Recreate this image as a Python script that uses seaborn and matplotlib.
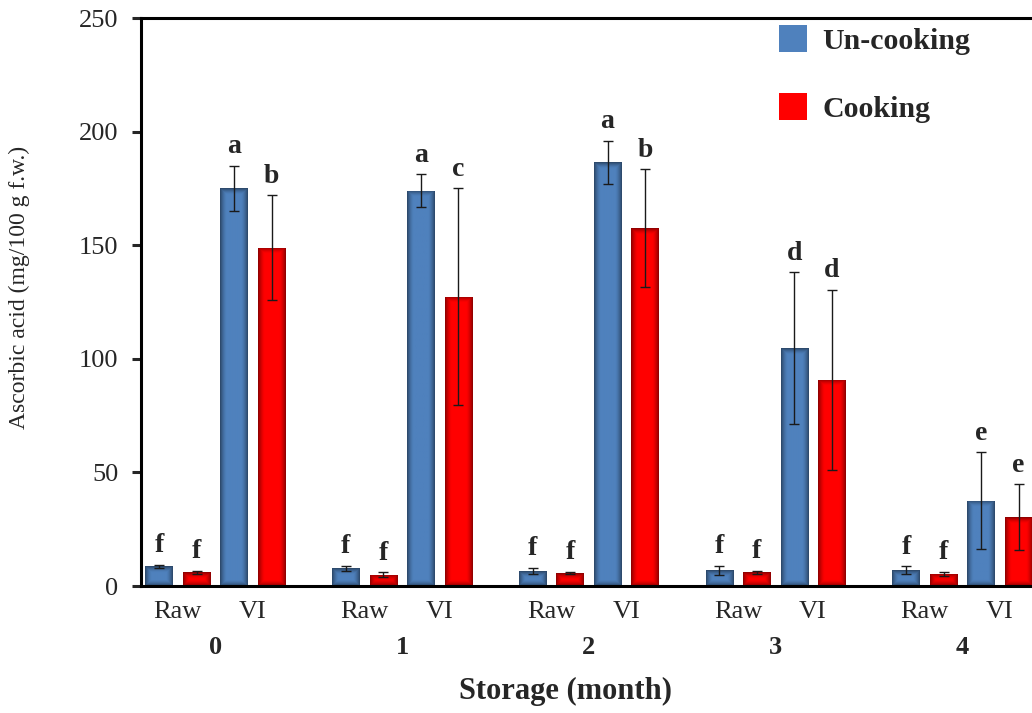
import numpy as np
import pandas as pd
import matplotlib
matplotlib.use('Agg')
import matplotlib.pyplot as plt
from matplotlib.patches import Patch
from matplotlib.container import BarContainer
from matplotlib.colors import to_rgb
import seaborn as sns

months = [0, 1, 2, 3, 4]
treatments = ['Raw', 'VI']
cook_levels = ['Un-cooking', 'Cooking']

# ascorbic acid (mg/100 g f.w.), mean and error bar
raw_uncook = [8.6, 7.8, 6.6, 7.0, 7.0]
raw_uncook_err = [0.8, 1.2, 1.5, 2.0, 1.7]
raw_cook = [6.0, 5.0, 5.7, 6.0, 5.3]
raw_cook_err = [0.8, 1.0, 0.6, 0.8, 1.0]
vi_uncook = [175.0, 174.0, 186.5, 104.6, 37.5]
vi_uncook_err = [10.0, 7.3, 9.5, 33.5, 21.4]
vi_cook = [149.0, 127.3, 157.4, 90.7, 30.2]
vi_cook_err = [23.0, 47.7, 26.0, 39.6, 14.5]

# significance letters
raw_uncook_lt = ['f', 'f', 'f', 'f', 'f']
raw_cook_lt = ['f', 'f', 'f', 'f', 'f']
vi_uncook_lt = ['a', 'a', 'a', 'd', 'e']
vi_cook_lt = ['b', 'c', 'b', 'd', 'e']

colors = {'Un-cooking': '#4F81BD', 'Cooking': '#FF0000'}
month_step = 2.49  # distance between storage months (in bar-pair units)

series = {
    ('Raw', 'Un-cooking'): (raw_uncook, raw_uncook_err, raw_uncook_lt),
    ('Raw', 'Cooking'): (raw_cook, raw_cook_err, raw_cook_lt),
    ('VI', 'Un-cooking'): (vi_uncook, vi_uncook_err, vi_uncook_lt),
    ('VI', 'Cooking'): (vi_cook, vi_cook_err, vi_cook_lt),
}

rows = []
for i, m in enumerate(months):
    for j, t in enumerate(treatments):
        for c in cook_levels:
            vals, errs, lts = series[(t, c)]
            rows.append({'month': m, 'treat': t, 'cook': c,
                         'pos': i * month_step + j,
                         'value': vals[i], 'err': errs[i], 'letter': lts[i]})
df = pd.DataFrame(rows)

sns.set_style('ticks')
plt.rcParams['font.family'] = ['Liberation Serif', 'DejaVu Serif']

fig = plt.figure(figsize=(10.32, 7.13), dpi=100)
ax = fig.add_axes([0.1371, 0.1781, 0.8629, 0.7966])

sns.barplot(data=df, x='pos', y='value', hue='cook', hue_order=cook_levels,
            palette=colors, native_scale=True, width=1.0, gap=0.27,
            saturation=1, errorbar=None, legend=False, linewidth=0, ax=ax)

xlim = (-0.484, 11.39)
ylim = (0, 250)
ax.set_xlim(*xlim)
ax.set_ylim(*ylim)

bar_conts = [c for c in ax.containers if isinstance(c, BarContainer)]

# error bars and letters
for cont in bar_conts:
    fc = to_rgb(cont[0].get_facecolor())
    level = [l for l in cook_levels if np.allclose(to_rgb(colors[l]), fc, atol=0.02)][0]
    sub = df[df['cook'] == level].sort_values('pos')
    xs = [p.get_x() + p.get_width() / 2 for p in cont]
    ax.errorbar(xs, sub['value'], yerr=sub['err'], fmt='none', ecolor='#1a1a1a',
                elinewidth=1.0, capsize=3.5, capthick=1.0, zorder=5)
    for x, v, e, lt in zip(xs, sub['value'], sub['err'], sub['letter']):
        ax.annotate(lt, xy=(x, v + e), xytext=(0, 9), textcoords='offset points',
                    ha='center', va='baseline', fontsize=20, fontweight='bold')

# Excel-like inner shading of the bars
for cont in bar_conts:
    for p in cont:
        base = np.array(to_rgb(p.get_facecolor()))
        bb = p.get_window_extent()
        w = max(int(round(bb.width)), 2)
        h = max(int(round(bb.height)), 2)
        xx = np.arange(w)[None, :]
        yy = np.arange(h)[:, None]
        d = np.minimum(np.minimum(xx, w - 1 - xx), np.minimum(yy, h - 1 - yy)).astype(float)
        f = 1 - 0.42 * np.clip(1 - d / 6.0, 0, 1) ** 1.5
        img = base[None, None, :] * f[:, :, None]
        im = ax.imshow(img, extent=(p.get_x(), p.get_x() + p.get_width(),
                                    p.get_y(), p.get_y() + p.get_height()),
                       origin='lower', aspect='auto', interpolation='bilinear',
                       zorder=p.get_zorder() + 0.1)
        im.set_clip_path(p)

ax.set_xlim(*xlim)
ax.set_ylim(*ylim)
ax.set_yticks([0, 50, 100, 150, 200, 250])

positions = sorted(df['pos'].unique())
ax.set_xticks(positions)
ax.set_xticklabels(treatments * len(months))

for i, m in enumerate(months):
    ax.annotate(str(m), xy=(i * month_step + 0.5, 0), xycoords=('data', 'axes fraction'),
                xytext=(0, -44), textcoords='offset points', ha='center', va='center',
                fontsize=19, fontweight='bold')

ax.spines['right'].set_visible(False)
for s in ['left', 'bottom', 'top']:
    ax.spines[s].set_linewidth(2.2)
    ax.spines[s].set_color('black')

ax.tick_params(axis='y', length=6.5, width=2.2, direction='out', labelsize=19, pad=10)
ax.tick_params(axis='x', length=0, labelsize=19, pad=11)

ax.set_ylabel('Ascorbic acid (mg/100 g f.w.)', fontsize=17)
ax.yaxis.set_label_coords(-0.125, 0.525)
ax.set_xlabel('Storage (month)', fontsize=22, fontweight='bold')
ax.xaxis.set_label_coords(0.4767, -0.16)

handles = [Patch(facecolor=colors[l], edgecolor='none') for l in cook_levels]
ax.legend(handles, cook_levels, loc='upper left', bbox_to_anchor=(779 / 1032, 1 - 25 / 713),
          bbox_transform=fig.transFigure, frameon=False,
          prop={'weight': 'bold', 'size': 21.5}, handlelength=0.95, handleheight=1.0,
          handletextpad=0.5, labelspacing=1.3, borderpad=0, borderaxespad=0)

fig.savefig('out.png', dpi=100)
